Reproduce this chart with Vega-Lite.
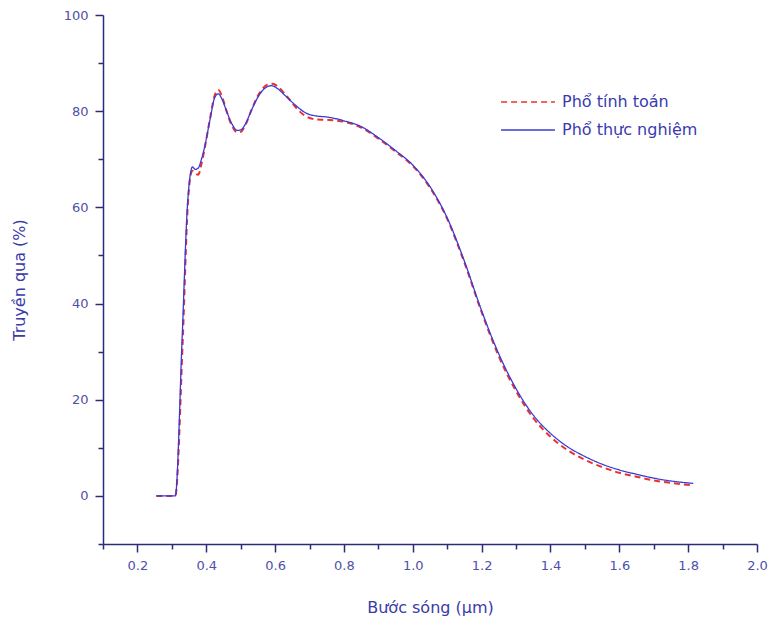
{
  "$schema": "https://vega.github.io/schema/vega-lite/v6.json",
  "autosize": "none",
  "width": 654,
  "height": 529,
  "padding": {"left": 103, "top": 15, "right": 11, "bottom": 78},
  "background": "white",
  "config": {
    "view": {"stroke": null},
    "axis": {
      "domainColor": "#2b2b7a",
      "domainWidth": 1.5,
      "tickColor": "#2b2b7a",
      "tickWidth": 1.5,
      "labelColor": "#5050a8",
      "labelFont": "DejaVu Sans",
      "labelFontSize": 13,
      "titleColor": "#3a3aa8",
      "titleFont": "DejaVu Sans",
      "titleFontSize": 16,
      "titleFontWeight": "normal",
      "grid": false
    }
  },
  "datasets": {
    "calc": [
      {"x": 0.255, "y": 0}, {"x": 0.31, "y": 0}, {"x": 0.332, "y": 33}, {"x": 0.346, "y": 60},
      {"x": 0.353, "y": 66}, {"x": 0.36, "y": 67.6}, {"x": 0.368, "y": 67.0}, {"x": 0.377, "y": 66.8},
      {"x": 0.386, "y": 69.0}, {"x": 0.396, "y": 72.5}, {"x": 0.411, "y": 78.5}, {"x": 0.425, "y": 83.4},
      {"x": 0.435, "y": 84.4}, {"x": 0.447, "y": 82.8}, {"x": 0.459, "y": 80.0}, {"x": 0.475, "y": 76.9},
      {"x": 0.49, "y": 75.6}, {"x": 0.5, "y": 75.7}, {"x": 0.515, "y": 77.3}, {"x": 0.53, "y": 80.0},
      {"x": 0.555, "y": 83.8}, {"x": 0.575, "y": 85.4}, {"x": 0.592, "y": 85.7}, {"x": 0.61, "y": 85.0},
      {"x": 0.635, "y": 83.0}, {"x": 0.665, "y": 80.4}, {"x": 0.69, "y": 78.9}, {"x": 0.72, "y": 78.3},
      {"x": 0.75, "y": 78.2}, {"x": 0.8, "y": 77.8}, {"x": 0.85, "y": 76.6}, {"x": 0.9, "y": 74.3},
      {"x": 0.95, "y": 71.6}, {"x": 1.0, "y": 68.6}, {"x": 1.05, "y": 64.1}, {"x": 1.1, "y": 57.6},
      {"x": 1.15, "y": 48.5}, {"x": 1.2, "y": 38.2}, {"x": 1.25, "y": 29.0}, {"x": 1.3, "y": 21.8},
      {"x": 1.35, "y": 16.2}, {"x": 1.4, "y": 12.3}, {"x": 1.45, "y": 9.5}, {"x": 1.5, "y": 7.5},
      {"x": 1.55, "y": 6.0}, {"x": 1.6, "y": 4.8}, {"x": 1.65, "y": 4.0}, {"x": 1.7, "y": 3.2},
      {"x": 1.75, "y": 2.7}, {"x": 1.815, "y": 2.2}
    ],
    "meas": [
      {"x": 0.255, "y": 0}, {"x": 0.31, "y": 0}, {"x": 0.33, "y": 33}, {"x": 0.345, "y": 60},
      {"x": 0.352, "y": 66}, {"x": 0.36, "y": 68.4}, {"x": 0.368, "y": 67.9}, {"x": 0.377, "y": 68.2},
      {"x": 0.386, "y": 70.0}, {"x": 0.396, "y": 72.8}, {"x": 0.411, "y": 78.3}, {"x": 0.425, "y": 82.9},
      {"x": 0.435, "y": 83.6}, {"x": 0.447, "y": 82.3}, {"x": 0.459, "y": 80.0}, {"x": 0.475, "y": 77.3},
      {"x": 0.49, "y": 76.0}, {"x": 0.5, "y": 76.1}, {"x": 0.515, "y": 77.5}, {"x": 0.53, "y": 80.0},
      {"x": 0.555, "y": 83.5}, {"x": 0.575, "y": 85.0}, {"x": 0.59, "y": 85.3}, {"x": 0.605, "y": 84.8},
      {"x": 0.63, "y": 83.2}, {"x": 0.66, "y": 81.2}, {"x": 0.69, "y": 79.6}, {"x": 0.72, "y": 79.0},
      {"x": 0.75, "y": 78.8}, {"x": 0.8, "y": 78.0}, {"x": 0.85, "y": 76.8}, {"x": 0.9, "y": 74.5},
      {"x": 0.95, "y": 71.8}, {"x": 1.0, "y": 68.8}, {"x": 1.05, "y": 64.3}, {"x": 1.1, "y": 57.8},
      {"x": 1.15, "y": 48.8}, {"x": 1.2, "y": 38.5}, {"x": 1.25, "y": 29.5}, {"x": 1.3, "y": 22.3},
      {"x": 1.35, "y": 16.8}, {"x": 1.4, "y": 13.0}, {"x": 1.45, "y": 10.2}, {"x": 1.5, "y": 8.2},
      {"x": 1.55, "y": 6.6}, {"x": 1.6, "y": 5.4}, {"x": 1.65, "y": 4.5}, {"x": 1.7, "y": 3.7},
      {"x": 1.75, "y": 3.1}, {"x": 1.815, "y": 2.6}
    ]
  },
  "layer": [
    {
      "data": {"name": "calc"},
      "transform": [{"calculate": "'Phổ tính toán'", "as": "series"}],
      "mark": {"type": "line", "interpolate": "monotone", "strokeWidth": 2, "strokeDash": [6, 4]},
      "encoding": {
        "x": {"field": "x", "type": "quantitative"},
        "y": {"field": "y", "type": "quantitative"},
        "color": {"field": "series", "type": "nominal"},
        "strokeDash": {"field": "series", "type": "nominal"}
      }
    },
    {
      "data": {"name": "meas"},
      "transform": [{"calculate": "'Phổ thực nghiệm'", "as": "series"}],
      "mark": {"type": "line", "interpolate": "monotone", "strokeWidth": 1.3},
      "encoding": {
        "x": {"field": "x", "type": "quantitative"},
        "y": {"field": "y", "type": "quantitative"},
        "color": {"field": "series", "type": "nominal"},
        "strokeDash": {"field": "series", "type": "nominal"}
      }
    }
  ],
  "encoding": {
    "x": {
      "field": "x",
      "type": "quantitative",
      "scale": {"domain": [0.1, 2.0], "nice": false, "zero": false},
      "axis": {
        "title": "Bước sóng (µm)",
        "titlePadding": 27,
        "values": [0.1, 0.2, 0.3, 0.4, 0.5, 0.6, 0.7, 0.8, 0.9, 1.0, 1.1, 1.2, 1.3, 1.4, 1.5, 1.6, 1.7, 1.8, 1.9, 2.0],
        "labelExpr": "round(datum.value*10) % 2 == 0 ? format(datum.value, '.1f') : ''",
        "tickSize": {"condition": {"test": "round(datum.value*10) % 2 == 0", "value": 8}, "value": 5},
        "labelPadding": 7,
        "labelFlush": false,
        "labelOverlap": false
      }
    },
    "y": {
      "field": "y",
      "type": "quantitative",
      "scale": {"domain": [-10, 100], "nice": false},
      "axis": {
        "title": "Truyền qua (%)",
        "titlePadding": 36,
        "values": [-10, 0, 10, 20, 30, 40, 50, 60, 70, 80, 90, 100],
        "labelExpr": "round(datum.value) % 20 == 0 ? format(datum.value, 'd') : ''",
        "tickSize": {"condition": {"test": "round(datum.value) % 20 == 0", "value": 8}, "value": 5},
        "labelPadding": 7,
        "labelFlush": false,
        "labelOverlap": false
      }
    },
    "color": {
      "field": "series",
      "type": "nominal",
      "scale": {"domain": ["Phổ tính toán", "Phổ thực nghiệm"], "range": ["#e8322e", "#3a3ad6"]},
      "legend": {
        "title": null,
        "orient": "none",
        "legendX": 397,
        "legendY": 73,
        "symbolType": "stroke",
        "symbolSize": 2900,
        "symbolStrokeWidth": 1.6,
        "labelFont": "DejaVu Sans",
        "labelFontSize": 16,
        "labelColor": "#3a3ab0",
        "rowPadding": 0,
        "clipHeight": 28,
        "labelOffset": 6
      }
    },
    "strokeDash": {
      "field": "series",
      "type": "nominal",
      "scale": {"domain": ["Phổ tính toán", "Phổ thực nghiệm"], "range": [[6, 4], [1, 0]]},
      "legend": {
        "title": null,
        "orient": "none",
        "legendX": 397,
        "legendY": 73,
        "symbolType": "stroke",
        "symbolSize": 2900,
        "symbolStrokeWidth": 1.6,
        "labelFont": "DejaVu Sans",
        "labelFontSize": 16,
        "labelColor": "#3a3ab0",
        "rowPadding": 0,
        "clipHeight": 28,
        "labelOffset": 6
      }
    }
  }
}
